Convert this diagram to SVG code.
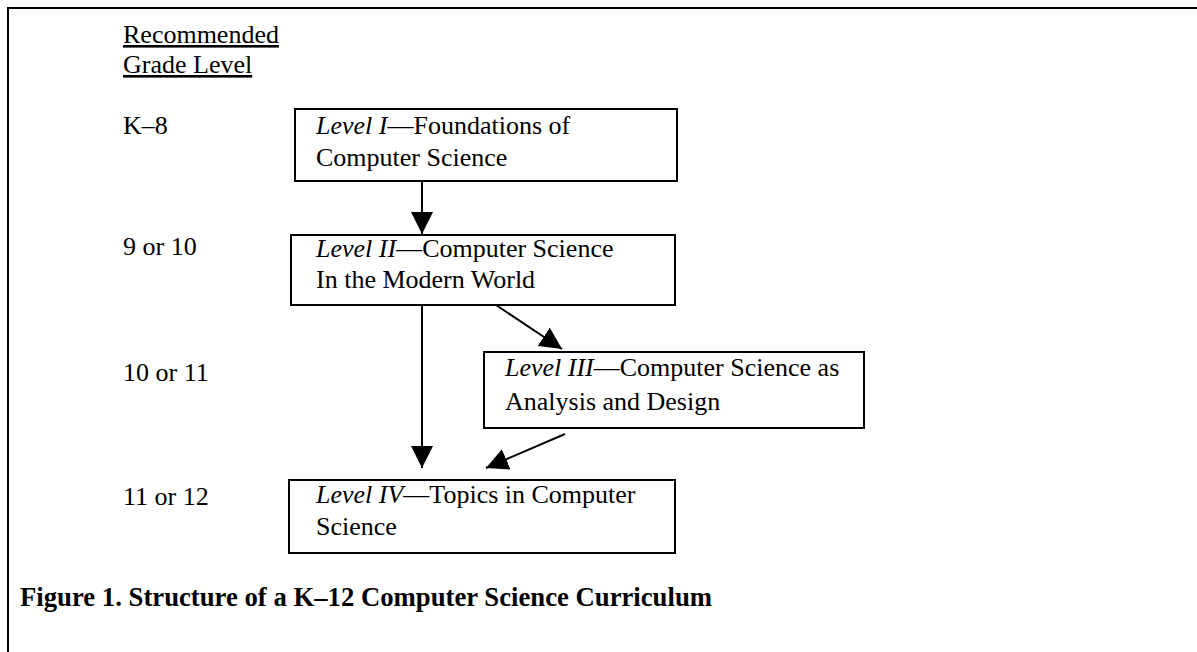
<svg xmlns="http://www.w3.org/2000/svg" width="1197" height="652" viewBox="0 0 1197 652">
<style>
text{font-family:"Liberation Serif","Times New Roman",serif;font-size:26px;fill:#000}
.i{font-style:italic}
.box{fill:#fff;stroke:#000;stroke-width:2}
.cn{stroke:#000;stroke-width:2;fill:none}
.u{text-decoration:underline}
.cap{font-weight:bold;font-size:26.5px}
</style>
<defs>
<marker id="ah" markerUnits="userSpaceOnUse" markerWidth="22" markerHeight="22" viewBox="0 0 20 20" refX="20" refY="10" orient="auto">
<path d="M0,0 L20,10 L0,20 Z" fill="#000"/>
</marker>
</defs>
<rect width="1197" height="652" fill="#fff"/>
<path d="M8,652 V8 H1197" fill="none" stroke="#000" stroke-width="2"/>
<g id="grades">
<text x="123" y="43" class="u">Recommended</text>
<text x="123" y="73" class="u">Grade Level</text>
<text x="123" y="134">K–8</text>
<text x="123" y="255">9 or 10</text>
<text x="123" y="381">10 or 11</text>
<text x="123" y="505">11 or 12</text>
</g>
<g id="connectors">
<line class="cn" x1="422" y1="181" x2="422" y2="234" marker-end="url(#ah)"/>
<line class="cn" x1="422" y1="305" x2="422" y2="468" marker-end="url(#ah)"/>
<line class="cn" x1="496" y1="305" x2="562" y2="349" marker-end="url(#ah)"/>
<line class="cn" x1="565" y1="434" x2="486" y2="468" marker-end="url(#ah)"/>
</g>
<g id="level1">
<rect class="box" x="295" y="109" width="382" height="72"/>
<text x="316" y="134"><tspan class="i">Level I</tspan>—Foundations of</text>
<text x="316" y="166">Computer Science</text>
</g>
<g id="level2">
<rect class="box" x="291" y="235" width="384" height="70"/>
<text x="316" y="257"><tspan class="i">Level II</tspan>—Computer Science</text>
<text x="316" y="288">In the Modern World</text>
</g>
<g id="level3">
<rect class="box" x="484" y="352" width="380" height="76"/>
<text x="505" y="376"><tspan class="i">Level III</tspan>—Computer Science as</text>
<text x="505" y="410">Analysis and Design</text>
</g>
<g id="level4">
<rect class="box" x="289" y="480" width="386" height="73"/>
<text x="316" y="503"><tspan class="i">Level IV</tspan>—Topics in Computer</text>
<text x="316" y="535">Science</text>
</g>
<g id="caption">
<text x="20" y="606" class="cap" textLength="692" lengthAdjust="spacingAndGlyphs">Figure 1. Structure of a K–12 Computer Science Curriculum</text>
</g>
</svg>
